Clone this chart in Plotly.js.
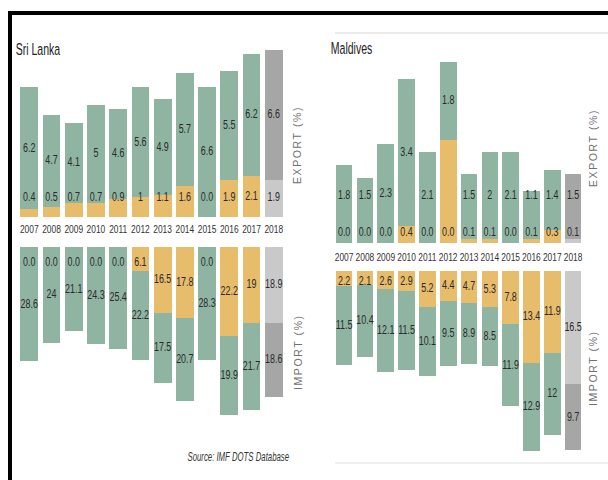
<!DOCTYPE html>
<html><head><meta charset="utf-8">
<script src="https://cdn.plot.ly/plotly-3.0.1.min.js"></script>
<style>
html,body{margin:0;padding:0;background:#fff}
#chart{width:608px;height:480px}
.annotation[data-index="2"] .annotation-text,
.annotation[data-index="3"] .annotation-text,
.annotation[data-index="4"] .annotation-text,
.annotation[data-index="5"] .annotation-text{letter-spacing:1.6px}
</style>
</head><body><div id="chart"></div>
<script>
// ---- data ----
const years = ['2007','2008','2009','2010','2011','2012','2013','2014','2015','2016','2017','2018'];

// Sri Lanka
const slExportYellow = [0.4,0.5,0.7,0.7,0.9,1,1.1,1.6,0.0,1.9,2.1,1.9];
const slExportGreen  = [6.2,4.7,4.1,5,4.6,5.6,4.9,5.7,6.6,5.5,6.2,6.6];
const slImportYellow = [0.0,0.0,0.0,0.0,0.0,6.1,16.5,17.8,0.0,22.2,19,18.9];
const slImportGreen  = [28.6,24,21.1,24.3,25.4,22.2,17.5,20.7,28.3,19.9,21.7,18.6];

// Maldives
const mvExportYellow = [0.0,0.0,0.0,0.4,0.0,2.4,0.1,0.1,0.0,0.1,0.3,0.1];
const mvExportYellowLabels = ['0.0','0.0','0.0','0.4','0.0','0.0','0.1','0.1','0.0','0.1','0.3','0.1'];
const mvExportGreen  = [1.8,1.5,2.3,3.4,2.1,1.8,1.5,2,2.1,1.1,1.4,1.5];
const mvImportYellow = [2.2,2.1,2.6,2.9,5.2,4.4,4.7,5.3,7.8,13.4,11.9,16.5];
const mvImportGreen  = [11.5,10.4,12.1,11.5,10.1,9.5,8.9,8.5,11.9,12.9,12,9.7];

// ---- styles ----
const GREEN = '#8fb5a2', YELLOW = '#e7bc6b', GRAY_D = '#a6a6a6', GRAY_L = '#c9c9c9';
const SANS = 'Liberation Sans, Arial, sans-serif';
const LBL_FONT = {family:SANS, size:13.5, color:'#2a2a2a'};
const fmt = v => v === 0 ? '0.0' : String(v);
const col = (base, last) => years.map((y,i) => i === years.length-1 ? last : base);

function barPair(yellow, green, xa, ya, lastYellow, lastGreen){
  return [
    {type:'bar', x:years, y:yellow, xaxis:xa, yaxis:ya, marker:{color:col(YELLOW,lastYellow)}, hoverinfo:'skip'},
    {type:'bar', x:years, y:green, xaxis:xa, yaxis:ya, marker:{color:col(GREEN,lastGreen)}, hoverinfo:'skip'}
  ];
}
function labels(xa, ya, yPos, text){
  return {type:'scatter', mode:'text', x:years, y:yPos, text:text, xaxis:xa, yaxis:ya,
          textfont:LBL_FONT, textposition:'middle center', hoverinfo:'skip', cliponaxis:false};
}

const traces = [
  ...barPair(slExportYellow, slExportGreen, 'x', 'y', GRAY_L, GRAY_D),
  ...barPair(slImportYellow, slImportGreen, 'x2', 'y2', GRAY_L, GRAY_D),
  ...barPair(mvExportYellow, mvExportGreen, 'x3', 'y3', GRAY_L, GRAY_D),
  ...barPair(mvImportYellow, mvImportGreen, 'x4', 'y4', GRAY_L, GRAY_D),
  labels('x','y', slExportYellow.map(v => Math.max(v/2, 1.0)), slExportYellow.map(fmt)),
  labels('x','y', slExportGreen.map((g,i) => slExportYellow[i] + g/2), slExportGreen.map(fmt)),
  labels('x2','y2', slImportYellow.map(v => Math.max(v/2, 3.8)), slImportYellow.map(fmt)),
  labels('x2','y2', slImportGreen.map((g,i) => slImportYellow[i] + g/2), slImportGreen.map(fmt)),
  labels('x3','y3', mvExportYellow.map(v => 0.25), mvExportYellowLabels),
  labels('x3','y3', mvExportGreen.map((g,i) => Math.max(mvExportYellow[i] + g/2, 1.1)), mvExportGreen.map(fmt)),
  labels('x4','y4', mvImportYellow.map(v => Math.max(v/2, 1.6)), mvImportYellow.map(fmt)),
  labels('x4','y4', mvImportGreen.map((g,i) => mvImportYellow[i] + g/2), mvImportGreen.map(fmt))
];

const W = 608, H = 480;
const px = v => v / W, py = v => 1 - v / H;
const hidY = {showgrid:false, zeroline:false, showline:false, showticklabels:false, ticks:''};
const YEAR_FONT = {family:SANS, size:10.5, color:'#333'};
const catX = (dom, anchor, show, standoff) => ({domain:dom, anchor:anchor, type:'category', showgrid:false, zeroline:false,
  showline:false, ticks:'', showticklabels:show, tickangle:0, tickfont:YEAR_FONT, ticklabelstandoff:standoff, fixedrange:true});

const slDom = [px(15.7), px(287.3)];
const mvDom = [px(331.4), px(585.8)];

const axTitle = (t, x, y) => ({text:t, xref:'paper', yref:'paper', x:px(x), y:py(y), textangle:-90,
  showarrow:false, xanchor:'center', yanchor:'middle',
  font:{family:SANS, size:10.5, color:'#707070'}});

const layout = {
  width:W, height:H, margin:{l:0,r:0,t:0,b:0}, paper_bgcolor:'#fff', plot_bgcolor:'rgba(0,0,0,0)',
  showlegend:false, barmode:'stack', bargap:0.2,
  xaxis: catX(slDom, 'y', true, 5),
  yaxis: Object.assign({domain:[py(217), py(40)], anchor:'x', range:[0,9]}, hidY),
  xaxis2: catX(slDom, 'y2', false, 0),
  yaxis2: Object.assign({domain:[py(427), py(247)], anchor:'x2', range:[45,0]}, hidY),
  xaxis3: catX(mvDom, 'y3', true, 7),
  yaxis3: Object.assign({domain:[py(243), py(49)], anchor:'x3', range:[0,4.5]}, hidY),
  xaxis4: catX(mvDom, 'y4', false, 0),
  yaxis4: Object.assign({domain:[py(476.5), py(271)], anchor:'x4', range:[30,0]}, hidY),
  annotations: [
    {text:'Sri Lanka', xref:'paper', yref:'paper', x:px(38), y:py(50), xanchor:'center', yanchor:'middle', showarrow:false,
     font:{family:SANS, size:17, color:'#222'}},
    {text:'Maldives', xref:'paper', yref:'paper', x:px(351), y:py(49), xanchor:'center', yanchor:'middle', showarrow:false,
     font:{family:SANS, size:17, color:'#222'}},
    axTitle('EXPORT (%)', 297, 145),
    axTitle('IMPORT (%)', 298, 352),
    axTitle('EXPORT (%)', 593, 148),
    axTitle('IMPORT (%)', 593, 368),
    {text:'<i>Source: IMF DOTS Database</i>', xref:'paper', yref:'paper', x:px(238.5), y:py(457), xanchor:'center', yanchor:'middle',
     showarrow:false, font:{family:SANS, size:12, color:'#333'}}
  ],
  shapes: [
    {type:'rect', xref:'paper', yref:'paper', x0:px(8), x1:1, y0:py(15), y1:py(11), fillcolor:'#000', line:{width:0}},
    {type:'rect', xref:'paper', yref:'paper', x0:px(8), x1:px(12), y0:0, y1:py(11), fillcolor:'#000', line:{width:0}},
    {type:'line', xref:'paper', yref:'paper', x0:px(335), x1:1, y0:py(33), y1:py(33), line:{color:'#ebebeb', width:2}},
    {type:'line', xref:'paper', yref:'paper', x0:px(335), x1:1, y0:py(463), y1:py(463), line:{color:'#efefef', width:2}}
  ]
};

// narrow the condensed-looking texts horizontally around their anchor
function squeeze(nodes, k){
  nodes.forEach(t => {
    const x = parseFloat(t.getAttribute('x')) || 0;
    const prev = t.getAttribute('transform') || '';
    t.setAttribute('transform', (prev + ' translate(' + x + ',0) scale(' + k + ',1) translate(' + (-x) + ',0)').trim());
  });
}

Plotly.newPlot('chart', traces, layout, {displayModeBar:false, staticPlot:true}).then(gd => {
  squeeze(gd.querySelectorAll('.textpoint text'), 0.66);
  squeeze(gd.querySelectorAll('.xtick text, .x3tick text'), 0.8);
  gd.querySelectorAll('.annotation').forEach(a => {
    const i = +a.getAttribute('data-index');
    const t = a.querySelector('.annotation-text');
    if (!t) return;
    if (i === 0 || i === 1) squeeze([t], 0.62);
    if (i === 6) squeeze([t], 0.65);
  });
});
</script>
</body></html>
